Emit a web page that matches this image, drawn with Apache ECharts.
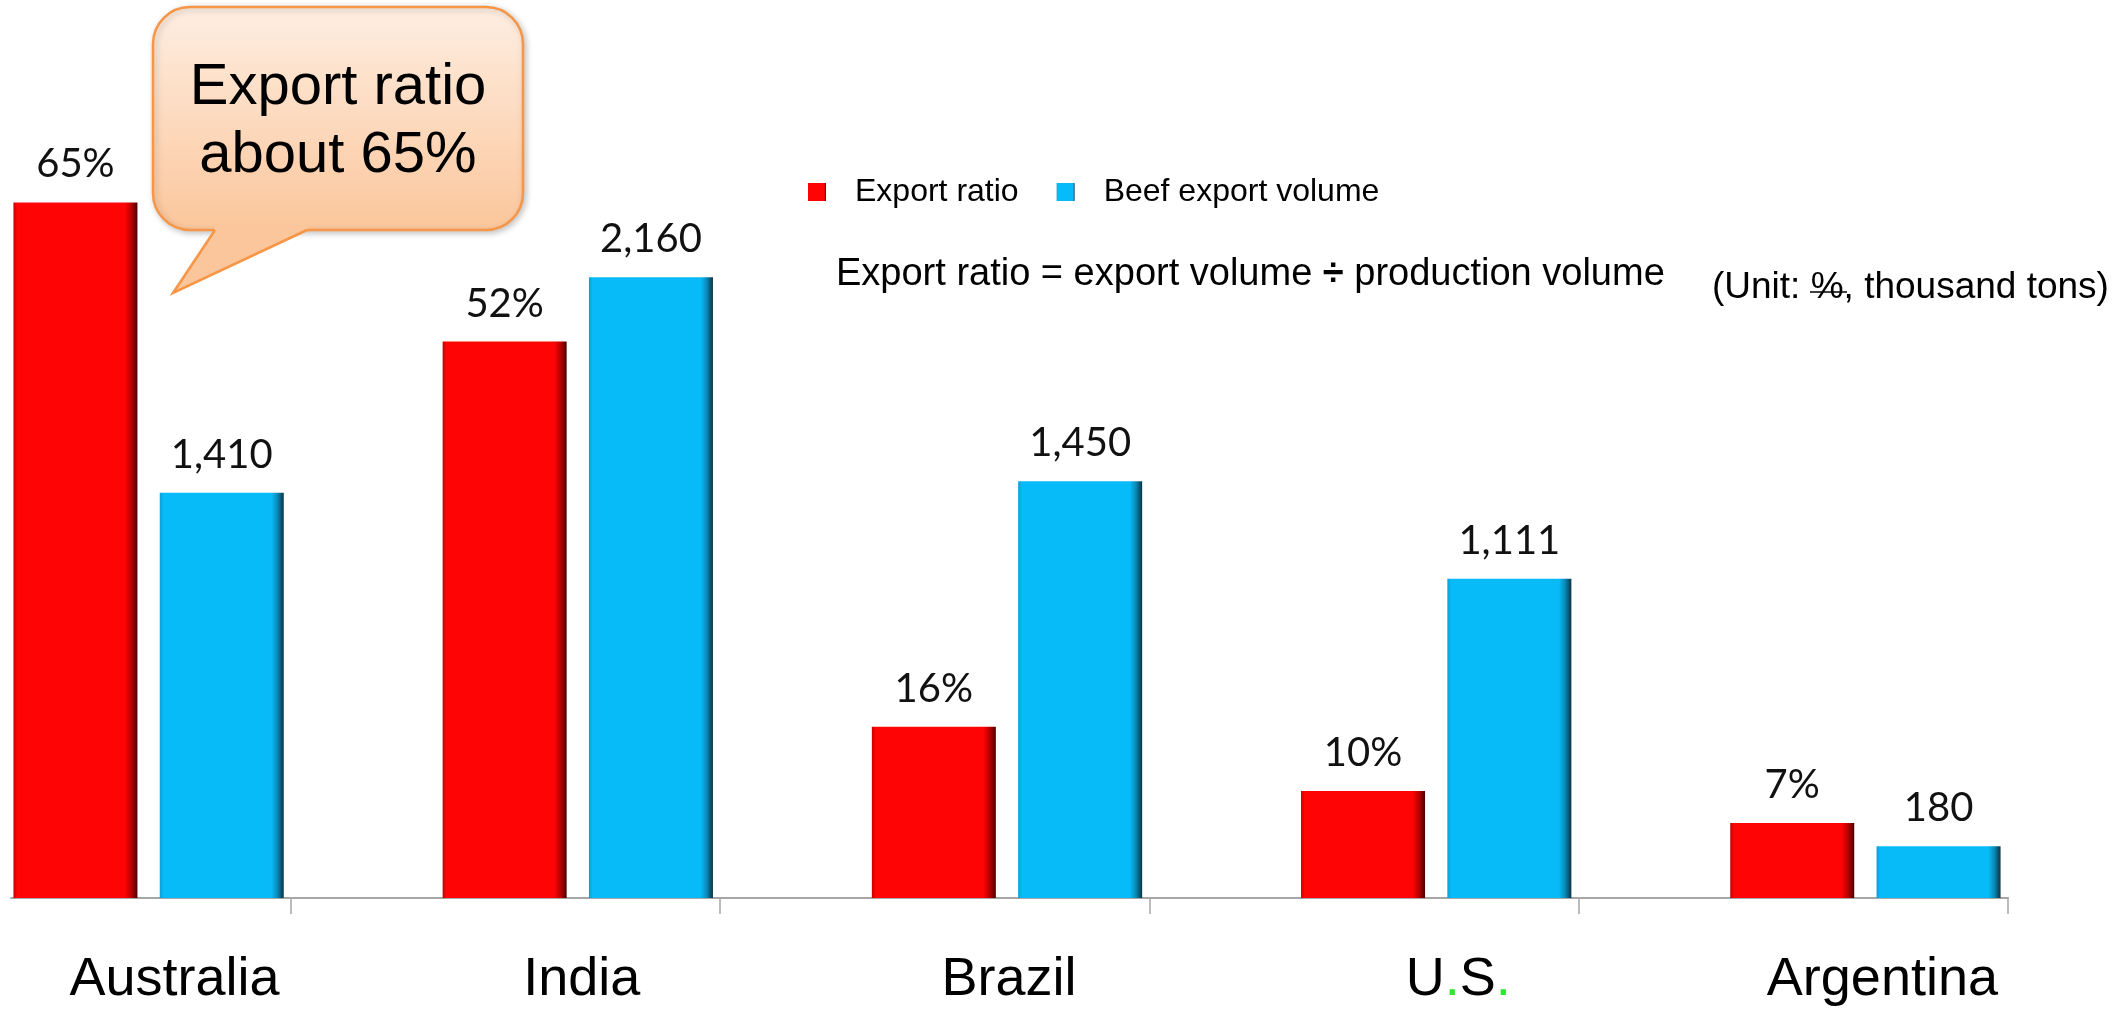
<!DOCTYPE html>
<html><head><meta charset="utf-8">
<script src="https://cdn.jsdelivr.net/npm/echarts@6/dist/echarts.min.js"></script>
<style>html,body{margin:0;padding:0;background:#fff}#c{width:2122px;height:1009px}</style>
</head><body><div id="c"></div>
<script>
// ---- data ----
const categories = ['Australia', 'India', 'Brazil', 'U.S.', 'Argentina'];
const exportRatio = [65, 52, 16, 10, 7];          // %
const exportVolume = [1410, 2160, 1450, 1111, 180]; // thousand tons
const seriesNames = ['Export ratio', 'Beef export volume'];
const formulaText = 'Export ratio = export volume {d|\u00F7} production volume';
const unitText = '(Unit: %, thousand tons)';
const calloutLines = ['Export ratio', 'about 65%'];
const axisTickValues = [0, 1, 2, 3, 4];

// ---- styles ----
const labelShift = [26, 4, 2, 22, 17];
function lin(x2, y2, stops) {
  return {type: 'linear', x: 0, y: 0, x2: x2, y2: y2, global: false,
    colorStops: stops.map(s => ({offset: s[0], color: s[1]}))};
}
const redFill = lin(1, 0, [[0, '#c80000'], [0.03, '#fe0404'], [0.9, '#fe0404'], [0.95, '#b80000'], [1, '#4a0000']]);
const blueFill = lin(1, 0, [[0, '#0a9fd6'], [0.03, '#07bbf8'], [0.9, '#07bbf8'], [0.95, '#0a88b6'], [1, '#0b3344']]);
const calloutFill = lin(0, 1, [[0, '#feeee2'], [1, '#fbc69b']]);
const calloutBottom = '#fbc69b';
const calloutStroke = '#f79646';

const labelFont = {fontFamily: 'Lato', fontSize: 40, color: '#111'};
const chart = echarts.init(document.getElementById('c'));

function txt(x, y, text, size, align, rich) {
  return {type: 'text', z: 12, x: x, y: y,
    style: {text: text, fill: '#000', fontSize: size, fontFamily: 'Liberation Sans', rich: rich || {},
      align: align, textAlign: align, verticalAlign: 'middle', textVerticalAlign: 'middle'}};
}

chart.setOption({
  animation: false,
  backgroundColor: '#fff',
  legend: {
    data: seriesNames, left: 808, top: 176, padding: 0,
    itemWidth: 18, itemHeight: 18, itemGap: 38, icon: 'rect',
    textStyle: {fontFamily: 'Liberation Sans', fontSize: 32, color: '#000', padding: [0, 0, 0, 24]}
  },
  grid: [
    {left: -66, right: 42, top: 149, bottom: 111, outerBoundsMode: 'none', containLabel: false},
    {left: 11, right: 114, top: 890, bottom: 111, outerBoundsMode: 'none', containLabel: false}
  ],
  xAxis: [
    {
      type: 'category', gridIndex: 0,
      data: categories.map((c, i) => ({value: c, textStyle: {padding: [0, 0, 0, labelShift[i] * 2]}})),
      axisLine: {show: false}, axisTick: {show: false},
      axisLabel: {
        interval: 0, margin: 55, fontFamily: 'Liberation Sans', fontSize: 54, color: '#000',
        formatter: v => v === 'U.S.' ? 'U{g|.}S{g|.}' : v,
        rich: {g: {color: '#2ee62e', fontSize: 54, fontFamily: 'Liberation Sans'}}
      }
    },
    {
      type: 'value', gridIndex: 1, min: -0.6523, max: 4,
      axisLine: {show: true, onZero: false, lineStyle: {color: '#a6a6a6', width: 2}},
      axisTick: {show: true, customValues: axisTickValues, length: 16, lineStyle: {color: '#a6a6a6', width: 1.5}},
      axisLabel: {show: false}, splitLine: {show: false}
    }
  ],
  yAxis: [
    {type: 'value', gridIndex: 0, min: 0, max: 70, show: false, splitLine: {show: false}},
    {type: 'value', gridIndex: 0, min: 0, max: 2606, show: false, splitLine: {show: false}},
    {type: 'value', gridIndex: 1, min: 0, max: 1, show: false, splitLine: {show: false}}
  ],
  series: [
    {
      type: 'bar', name: seriesNames[0], xAxisIndex: 0, yAxisIndex: 0, data: exportRatio,
      barWidth: 124, barGap: '18%', itemStyle: {color: redFill},
      label: Object.assign({show: true, position: 'top', distance: 18, formatter: p => p.value + '%'}, labelFont)
    },
    {
      type: 'bar', name: seriesNames[1], xAxisIndex: 0, yAxisIndex: 1, data: exportVolume,
      barWidth: 124, barGap: '18%', itemStyle: {color: blueFill},
      label: Object.assign({show: true, position: 'top', distance: 18,
        formatter: p => p.value.toLocaleString('en-US')}, labelFont)
    }
  ],
  graphic: [
    {type: 'rect', z: 10, shape: {x: 153, y: 7, width: 370, height: 223, r: 37},
      style: {fill: calloutFill, stroke: calloutStroke, lineWidth: 2.5,
        shadowBlur: 6, shadowColor: 'rgba(0,0,0,0.22)', shadowOffsetX: 2, shadowOffsetY: 2}},
    {type: 'polygon', z: 11, shape: {points: [[214, 226], [308, 226], [307, 231], [173, 293], [215, 231]]},
      style: {fill: calloutBottom, stroke: null}},
    {type: 'polyline', z: 11, shape: {points: [[307, 230], [173, 293], [215, 230]]},
      style: {fill: null, stroke: calloutStroke, lineWidth: 2.5, lineJoin: 'miter'}},
    txt(338, 88, calloutLines[0], 58, 'center'),
    txt(338, 156, calloutLines[1], 58, 'center'),
    txt(836, 275, formulaText, 38, 'left',
      {d: {fontSize: 38, fontWeight: 'bold', fontFamily: 'Liberation Sans', fill: '#000', color: '#000'}}),
    txt(1712, 288, unitText, 37, 'left'),
    {type: 'line', z: 13, shape: {x1: 1810, y1: 292, x2: 1847, y2: 292}, style: {stroke: '#000', lineWidth: 1.5}}
  ]
});
</script>
</body></html>
